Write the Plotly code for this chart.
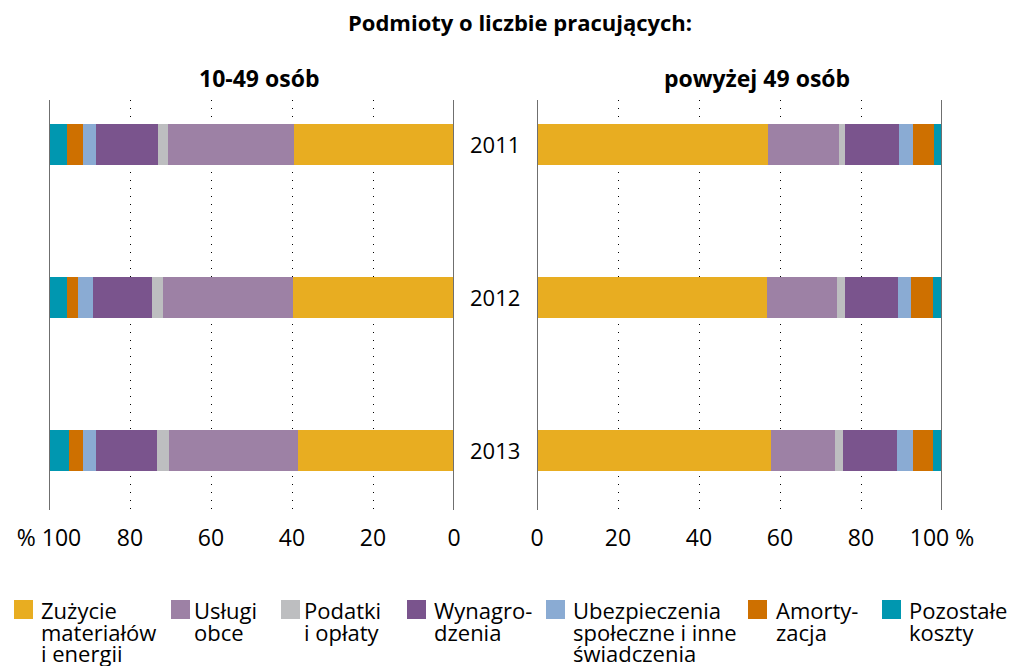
import plotly.graph_objects as go

years = ["2011", "2012", "2013"]
categories = ["Zużycie materiałów i energii", "Usługi obce", "Podatki i opłaty",
              "Wynagrodzenia", "Ubezpieczenia społeczne i inne świadczenia",
              "Amortyzacja", "Pozostałe koszty"]
legend_lines = [["Zużycie", "materiałów", "i energii"], ["Usługi", "obce"],
                ["Podatki", "i opłaty"], ["Wynagro-", "dzenia"],
                ["Ubezpieczenia", "społeczne i inne", "świadczenia"],
                ["Amorty-", "zacja"], ["Pozostałe", "koszty"]]
colors = ["#E8AD21", "#9D81A5", "#BDBEC0", "#7A548D", "#8AABD3", "#CE7000", "#0097B0"]

# 10-49 osób (values per year, %)
small_zuzycie = [39.5, 39.8, 38.5]
small_uslugi = [31.1, 32.1, 31.9]
small_podatki = [2.5, 2.7, 2.9]
small_wynagr = [15.3, 14.5, 15.1]
small_ubezp = [3.2, 3.7, 3.2]
small_amort = [4.0, 2.7, 3.5]
small_pozost = [4.4, 4.5, 4.9]

# powyżej 49 osób
large_zuzycie = [57.0, 56.8, 57.8]
large_uslugi = [17.6, 17.3, 15.8]
large_podatki = [1.4, 1.9, 2.0]
large_wynagr = [13.4, 13.1, 13.3]
large_ubezp = [3.4, 3.2, 3.9]
large_amort = [5.1, 5.6, 5.1]
large_pozost = [2.1, 2.1, 2.1]

small = [small_zuzycie, small_uslugi, small_podatki, small_wynagr, small_ubezp, small_amort, small_pozost]
large = [large_zuzycie, large_uslugi, large_podatki, large_wynagr, large_ubezp, large_amort, large_pozost]

tick_vals = [0, 20, 40, 60, 80, 100]
left_ticks = ["0", "20", "40", "60", "80", "% 100"]
right_ticks = ["0", "20", "40", "60", "80", "100 %"]

W, H = 1018, 666
OFF = 8  # page body margin offset
FONT = "Open Sans"


def px(x):
    return (x - OFF) / W


def py(y):
    return 1 - (y - OFF) / H


fig = go.Figure()
for i, cat in enumerate(categories):
    fig.add_trace(go.Bar(y=years, x=small[i], orientation="h", name=cat,
                         marker=dict(color=colors[i], line=dict(width=0)),
                         xaxis="x", yaxis="y", width=0.27, showlegend=False,
                         hovertemplate="%{y}: %{x}%<extra>" + cat + "</extra>"))
    fig.add_trace(go.Bar(y=years, x=large[i], orientation="h", name=cat,
                         marker=dict(color=colors[i], line=dict(width=0)),
                         xaxis="x2", yaxis="y2", width=0.27, showlegend=False,
                         hovertemplate="%{y}: %{x}%<extra>" + cat + "</extra>"))

ydom = [py(510), py(100)]
yrange = [2.39, -0.29]
xcommon = dict(tickvals=tick_vals, showgrid=True, gridcolor="#000000", gridwidth=1,
               griddash="1px,7px", zeroline=False, showline=False, ticks="",
               tickfont=dict(family=FONT, size=23, color="#000"), ticklabelstandoff=12,
               fixedrange=True, automargin=False)
ycommon = dict(domain=ydom, range=yrange, type="category", showticklabels=False,
               showgrid=False, zeroline=False, automargin=False, fixedrange=True)

fig.update_layout(
    width=W, height=H, barmode="stack", showlegend=False,
    margin=dict(l=0, r=0, t=0, b=0, pad=0, autoexpand=False),
    plot_bgcolor="white", paper_bgcolor="white",
    xaxis=dict(domain=[px(49), px(454)], range=[100, 0], ticktext=left_ticks,
               anchor="y", **xcommon),
    xaxis2=dict(domain=[px(537), px(942)], range=[0, 100], ticktext=right_ticks,
                anchor="y2", **xcommon),
    yaxis=dict(anchor="x", **ycommon),
    yaxis2=dict(anchor="x2", **ycommon),
)

shapes = []
for xr, xv in [("x", 100), ("x", 0), ("x2", 0), ("x2", 100)]:
    shapes.append(dict(type="line", xref=xr, yref="paper", x0=xv, x1=xv,
                       y0=ydom[0], y1=ydom[1], line=dict(color="#6f6f6f", width=2)))

annotations = [
    dict(text="<b>Podmioty o liczbie pracujących:</b>", x=px(520), y=py(22),
         xref="paper", yref="paper", showarrow=False, xanchor="center", yanchor="middle",
         font=dict(family=FONT, size=22, color="#000")),
    dict(text="<b>10-49 osób</b>", x=px(259), y=py(78),
         xref="paper", yref="paper", showarrow=False, xanchor="center", yanchor="middle",
         font=dict(family=FONT, size=23, color="#000")),
    dict(text="<b>powyżej 49 osób</b>", x=px(757), y=py(78),
         xref="paper", yref="paper", showarrow=False, xanchor="center", yanchor="middle",
         font=dict(family=FONT, size=23, color="#000")),
]
for idx, yr in enumerate(years):
    annotations.append(dict(text=yr, x=px(495), y=idx, xref="paper", yref="y",
                            showarrow=False, xanchor="center", yanchor="middle",
                            font=dict(family=FONT, size=22, color="#000")))

sq_x = [14, 171, 281, 407, 546, 748, 882]
txt_x = [40, 193, 303, 433, 572, 775, 908]
for i in range(len(categories)):
    shapes.append(dict(type="rect", xref="paper", yref="paper",
                       x0=px(sq_x[i]), x1=px(sq_x[i] + 19),
                       y0=py(619), y1=py(600),
                       fillcolor=colors[i], line=dict(width=0)))
    for j, line in enumerate(legend_lines[i]):
        annotations.append(dict(text=line, x=px(txt_x[i]), y=py(610 + j * 21.5),
                                xref="paper", yref="paper", showarrow=False,
                                xanchor="left", yanchor="middle", borderpad=0,
                                font=dict(family=FONT, size=22, color="#000")))

fig.update_layout(shapes=shapes, annotations=annotations)
fig.write_html("out.html")
